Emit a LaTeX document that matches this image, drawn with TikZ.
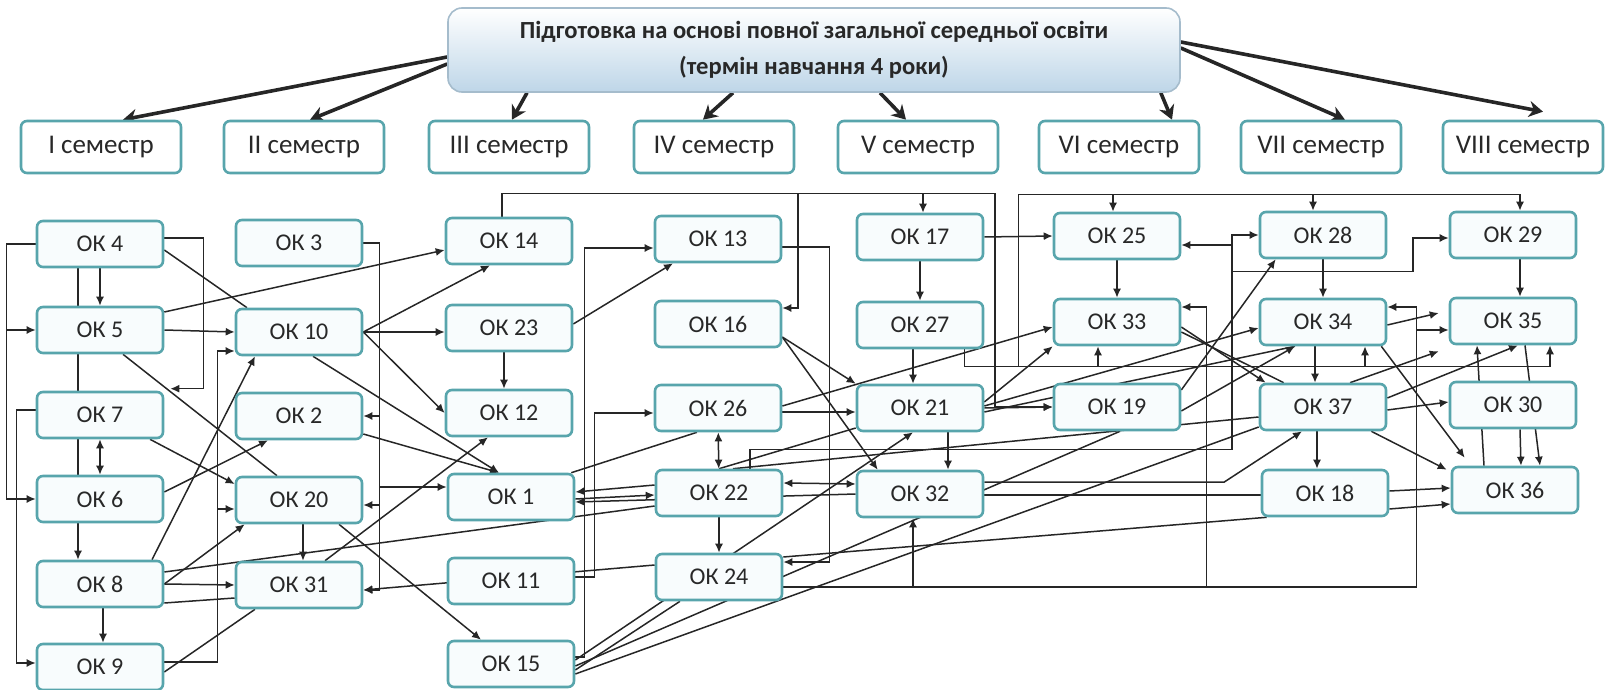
\documentclass[tikz,border=0pt]{standalone}
\usepackage{fontspec}
\setmainfont{Carlito}
\usetikzlibrary{arrows.meta,backgrounds}

\tikzset{
  ok_box/.style={shape=rectangle, rounded corners=3pt, draw=ok_border, line width=1.3pt,
    fill=ok_fill, minimum width=63pt, minimum height=23pt, text=ok_text,
    font=\fontsize{12}{14}\selectfont},
  sem_box/.style={ok_box, fill=white, minimum width=80pt, minimum height=26pt,
    font=\fontsize{13.5}{15}\selectfont},
  top_box/.style={shape=rectangle, rounded corners=7pt, draw=top_border, line width=0.8pt,
    top color=white, bottom color=top_fill, minimum width=366pt, minimum height=42pt,
    align=center, text=ok_text, font=\bfseries\fontsize{12.3}{18}\selectfont},
  link/.style={draw=link_gray, line width=0.75pt, -{Latex[length=4.5pt,width=4pt]}},
  link_both/.style={link, {Latex[length=4.5pt,width=4pt]}-{Latex[length=4.5pt,width=4pt]}},
  link_plain/.style={draw=link_gray, line width=0.75pt},
  sem_arrow/.style={draw=link_gray, line width=1.8pt, -{Stealth[length=7pt,width=8pt]}}
}

\begin{document}
\begin{tikzpicture}[x=0.5pt,y=-0.5pt]
    \definecolor{ok_border}{RGB}{88,165,172}
    \definecolor{ok_fill}{RGB}{248,252,253}
    \definecolor{ok_text}{RGB}{40,40,40}
    \definecolor{top_border}{RGB}{165,188,204}
    \definecolor{top_fill}{RGB}{190,214,232}
    \definecolor{link_gray}{RGB}{38,38,38}
    \useasboundingbox (0,0) rectangle (1608,690);

    % head and semesters
    \node[top_box] (top) at (814,50) {Підготовка на основі повної загальної середньої освіти\\(термін навчання 4 роки)};
    \node[sem_box] (sem1) at (101,147) {I семестр};
    \node[sem_box] (sem2) at (304,147) {II семестр};
    \node[sem_box] (sem3) at (509,147) {III семестр};
    \node[sem_box] (sem4) at (714,147) {IV семестр};
    \node[sem_box] (sem5) at (918,147) {V семестр};
    \node[sem_box] (sem6) at (1119,147) {VI семестр};
    \node[sem_box] (sem7) at (1321,147) {VII семестр};
    \node[sem_box] (sem8) at (1523,147) {VIII семестр};

    % disciplines
    \node[ok_box] (ok4) at (100,244) {ОК 4};
    \node[ok_box] (ok5) at (100,330) {ОК 5};
    \node[ok_box] (ok7) at (100,415) {ОК 7};
    \node[ok_box] (ok6) at (100,499) {ОК 6};
    \node[ok_box] (ok8) at (100,584) {ОК 8};
    \node[ok_box] (ok9) at (100,667) {ОК 9};
    \node[ok_box] (ok3) at (299,243) {ОК 3};
    \node[ok_box] (ok10) at (299,332) {ОК 10};
    \node[ok_box] (ok2) at (299,416) {ОК 2};
    \node[ok_box] (ok20) at (299,500) {ОК 20};
    \node[ok_box] (ok31) at (299,585) {ОК 31};
    \node[ok_box] (ok14) at (509,241) {ОК 14};
    \node[ok_box] (ok23) at (509,328) {ОК 23};
    \node[ok_box] (ok12) at (509,413) {ОК 12};
    \node[ok_box] (ok1) at (511,497) {ОК 1};
    \node[ok_box] (ok11) at (511,581) {ОК 11};
    \node[ok_box] (ok15) at (511,664) {ОК 15};
    \node[ok_box] (ok13) at (718,239) {ОК 13};
    \node[ok_box] (ok16) at (718,324) {ОК 16};
    \node[ok_box] (ok26) at (718,408) {ОК 26};
    \node[ok_box] (ok22) at (719,493) {ОК 22};
    \node[ok_box] (ok24) at (719,577) {ОК 24};
    \node[ok_box] (ok17) at (920,237) {ОК 17};
    \node[ok_box] (ok27) at (920,325) {ОК 27};
    \node[ok_box] (ok21) at (920,408) {ОК 21};
    \node[ok_box] (ok32) at (920,494) {ОК 32};
    \node[ok_box] (ok25) at (1117,236) {ОК 25};
    \node[ok_box] (ok33) at (1117,322) {ОК 33};
    \node[ok_box] (ok19) at (1117,407) {ОК 19};
    \node[ok_box] (ok28) at (1323,235) {ОК 28};
    \node[ok_box] (ok34) at (1323,322) {ОК 34};
    \node[ok_box] (ok37) at (1323,407) {ОК 37};
    \node[ok_box] (ok18) at (1325,493) {ОК 18};
    \node[ok_box] (ok29) at (1513,235) {ОК 29};
    \node[ok_box] (ok35) at (1513,321) {ОК 35};
    \node[ok_box] (ok30) at (1513,405) {ОК 30};
    \node[ok_box] (ok36) at (1515,490) {ОК 36};

    \begin{pgfonlayer}{background}
    % head to semesters
    \draw[sem_arrow] ([yshift=-3.5pt]top.west) -- ([xshift=11pt]sem1.north);
    \draw[sem_arrow] ([yshift=-7pt]top.west) -- ([xshift=3pt]sem2.north);
    \draw[sem_arrow] ([xshift=-143.5pt]top.south) -- ([xshift=1.5pt]sem3.north);
    \draw[sem_arrow] ([xshift=-40.5pt]top.south) -- ([xshift=-5.5pt]sem4.north);
    \draw[sem_arrow] ([xshift=33pt]top.south) -- ([xshift=-6pt]sem5.north);
    \draw[sem_arrow] ([xshift=-10pt]top.south east) -- ([xshift=26.5pt]sem6.north);
    \draw[sem_arrow] ([yshift=1pt]top.east) -- ([xshift=12pt]sem7.north);
    \draw[sem_arrow] ([yshift=4pt]top.east) -- ([xshift=10pt,yshift=4pt]sem8.north);

    % first column
    \draw[link] (ok4) -- (ok5);
    \draw[link] (ok4.west) -- ++(-29,0) |- (ok5.west);
    \draw[link] (ok4.west) -- ++(-29,0) |- (ok6.west);
    \draw[link] ([yshift=2.5pt]ok7.west) -- ++(-19,0) |- ([yshift=2pt]ok9.west);
    \draw[link] ([xshift=-11pt]ok4.south) -- ([xshift=-11pt]ok8.north);
    \draw[link_both] (ok7) -- (ok6);
    \draw[link] ([xshift=1.5pt]ok8.south) -- ([xshift=1.5pt]ok9.north);
    \draw[link] ([yshift=3pt]ok4.east) -- ++(39,0) |- ([xshift=3pt,yshift=1pt]ok7.north east);
    \draw[link_plain] ([yshift=-3pt]ok4.east) -- ([xshift=-26pt]ok10.north);
    \draw[link] (ok5.east) -- (ok10.west);
    \draw[link] ([yshift=9pt]ok5.east) -- ([yshift=-4.5pt]ok14.west);
    \draw[link_plain] ([xshift=11.5pt]ok5.south) -- ([xshift=-11pt]ok20.north);
    \draw[link] ([xshift=25pt]ok7.south) -- ([yshift=8pt]ok20.west);
    \draw[link] ([yshift=3.5pt]ok6.east) -- ([xshift=-15.5pt]ok2.south);
    \draw[link] ([xshift=26pt]ok8.north) -- ([xshift=-22pt]ok10.south);
    \draw[link] (ok8.east) -- ([xshift=5pt]ok20.south west);
    \draw[link] (ok8.east) -- (ok31.west);
    \draw[link_plain] ([yshift=6pt]ok8.east) -- ([yshift=-6.5pt]ok22.west);
    \draw[link_plain] ([yshift=-9.5pt]ok8.east) -- ([yshift=-6.5pt]ok31.west);
    \draw[link] ([yshift=2.5pt]ok9.east) -- ++(53,0) |- ([yshift=-9.5pt]ok10.west);
    \draw[link] ([yshift=2.5pt]ok9.east) -- ++(53,0) |- ([yshift=-4.5pt]ok20.west);
    \draw[link_plain] ([yshift=-2.5pt]ok9.east) -- ([xshift=-22pt]ok31.south);

    % second column
    \draw[link] (ok3.east) -- ++(16,0) |- (ok2.east);
    \draw[link] (ok3.east) -- ++(16,0) |- ([yshift=-2.5pt]ok20.east);
    \draw[link] (ok3.east) -- ++(16,0) |- ([yshift=-2.5pt]ok31.east);
    \draw[link] (ok3.east) -- ++(16,0) |- ([yshift=5pt]ok1.west);
    \draw[link] (ok10.east) -- ([xshift=-9.5pt]ok14.south);
    \draw[link] (ok10.east) -- ([yshift=-2pt]ok23.west);
    \draw[link] (ok10.east) -- (ok12.west);
    \draw[link] ([xshift=7pt]ok10.south) -- ([xshift=-6pt]ok1.north);
    \draw[link] ([yshift=-9pt]ok2.east) -- ([xshift=-6pt]ok1.north);
    \draw[link] ([xshift=2pt]ok20.south) -- ([xshift=2pt]ok31.north);
    \draw[link] ([xshift=20pt]ok20.south) -- ([xshift=-15pt]ok15.north);
    \draw[link] ([xshift=13pt]ok31.north) -- ([xshift=-10.5pt]ok12.south);
    \draw[link] ([yshift=6pt]ok24.west) -- ([yshift=-2.5pt]ok31.east);

    % third and fourth column
    \draw[link] ([xshift=-3.5pt]ok14.north) -- ++(0,-23) -| ([xshift=1.5pt]ok17.north);
    \draw[link] ([xshift=-3.5pt]ok14.north) -- ++(0,-23) -- ++(296,0) |- ([yshift=8pt]ok16.east);
    \draw[link] ([xshift=-3.5pt]ok14.north) -- ++(0,-23) -- ++(493,0) |- (ok19.west);
    \draw[link] ([xshift=-2.5pt]ok23.south) -- ([xshift=-2.5pt]ok12.north);
    \draw[link] ([yshift=2pt]ok23.east) -- ([xshift=-22.5pt]ok13.south);
    \draw[link] ([yshift=3.5pt]ok15.east) -- ++(9,0) |- ([yshift=-4.5pt]ok13.west);
    \draw[link] ([yshift=2pt]ok11.east) -- ++(19,0) |- ([yshift=-2.5pt]ok26.west);
    \draw[link_plain] ([xshift=-2pt]ok1.north east) -- ([xshift=-10.5pt]ok26.south);
    \draw[link] ([yshift=4pt]ok22.west) -- ([yshift=2.5pt]ok1.east);
    \draw[link] ([yshift=-1pt]ok1.east) -- ([yshift=-1pt]ok22.west);
    \draw[link] (ok32.west) -- ([yshift=-2.5pt]ok1.east);
    \draw[link_both] (ok26) -- (ok22);
    \draw[link] (ok22) -- (ok24);
    \draw[link] ([yshift=-4pt]ok13.east) -- ++(47,0) |- ([yshift=7.5pt]ok24.east);
    \draw[link_both] ([yshift=5pt]ok22.east) -- ([yshift=5pt]ok32.west);

    % fifth and sixth column
    \draw[link] (ok17) -- (ok27);
    \draw[link] ([xshift=-3.5pt]ok27.south) -- ([xshift=-3.5pt]ok21.north);
    \draw[link] (ok17.east) -- (ok25.west);
    \draw[link] (ok25) -- (ok33);
    \draw[link] ([yshift=-6.5pt]ok16.east) -- (ok21.north west);
    \draw[link] ([yshift=-6.5pt]ok16.east) -- ([xshift=11pt]ok32.north west);
    \draw[link] ([yshift=-2pt]ok26.east) -- ([yshift=-2pt]ok21.west);
    \draw[link] ([yshift=1pt]ok26.east) -- ([yshift=-2.5pt]ok33.west);
    \draw[link] (ok21.east) -- (ok19.west);
    \draw[link] ([yshift=3pt]ok21.east) -- (ok33.south west);
    \draw[link] ([yshift=1pt]ok21.east) -- ([yshift=-3pt]ok34.west);
    \draw[link_plain] ([yshift=-2pt]ok21.east) -- ([xshift=-14pt]ok34.south);
    \draw[link] ([xshift=14pt]ok21.south) -- ([xshift=14pt]ok32.north);
    \draw[link_plain] (ok22.north) -- ([yshift=-10pt]ok21.west);
    \draw[link_plain] ([xshift=7pt]ok22.north) -- ([yshift=-5pt]ok37.west);

    % OK 27 lines
    \draw[link] ([xshift=-10pt]ok27.south east) -- ++(0,17) -| ([xshift=-9.5pt]ok33.south);
    \draw[link] ([xshift=-10pt]ok27.south east) -- ++(0,17) -| ([xshift=21pt]ok34.south);
    \draw[link] ([xshift=-10pt]ok27.south east) -- ++(0,17) -| ([xshift=18.5pt]ok35.south);
    \draw[link] ([xshift=-10pt]ok27.south east) -- ++(0,17) -- ++(54,0) -- ++(0,-172) -| ([xshift=-2pt]ok25.north);
    \draw[link] ([xshift=-10pt]ok27.south east) -- ++(0,17) -- ++(54,0) -- ++(0,-172) -| ([xshift=-5pt]ok28.north);
    \draw[link] ([xshift=-10pt]ok27.south east) -- ++(0,17) -- ++(54,0) -- ++(0,-172) -| ([xshift=3.5pt]ok29.north);

    % OK 22 lines
    \draw[link] ([xshift=15.5pt]ok22.north) -- ++(0,-19) -- ++(482,0) |- ([yshift=-4.5pt]ok25.east);
    \draw[link] ([xshift=15.5pt]ok22.north) -- ++(0,-19) -- ++(482,0) |- (ok28.west);
    \draw[link] ([xshift=15.5pt]ok22.north) -- ++(0,-19) -- ++(482,0) -- ++(0,-178) -- ++(181,0) |- ([yshift=-1.5pt]ok29.west);

    % OK 24 lines
    \draw[link] ([yshift=-5pt]ok24.east) -| ([xshift=-3.5pt]ok32.south);
    \draw[link] ([yshift=-5pt]ok24.east) -- ++(423,0) |- ([yshift=7.5pt]ok33.east);
    \draw[link] ([yshift=-5pt]ok24.east) -- ++(633,0) |- ([yshift=7.5pt]ok34.east);
    \draw[link] ([yshift=-5pt]ok24.east) -- ++(633,0) |- ([yshift=-4.5pt]ok35.west);
    \draw[link_plain] ([yshift=10pt]ok24.east) -- ([xshift=3pt]ok18.south west);

    % OK 15 lines
    \draw[link] ([yshift=2pt]ok15.east) -- ([xshift=-3.5pt]ok21.south);
    \draw[link_plain] ([yshift=-1pt]ok15.east) -- ([xshift=1.5pt]ok19.south);
    \draw[link_plain] ([yshift=-5pt]ok15.east) -- ([yshift=-10pt]ok37.west);
    \draw[link_plain] ([yshift=-3pt]ok15.east) -- ([xshift=-19.5pt]ok24.south);

    % last columns
    \draw[link] ([yshift=6pt]ok32.east) -- ++(240,0) -- ([xshift=-10.5pt]ok37.south);
    \draw[link_plain] ([yshift=-0.5pt]ok32.east) -- ([yshift=-1pt]ok18.west);
    \draw[link] ([yshift=-2.5pt]ok33.east) -- ([xshift=3.5pt]ok37.north west);
    \draw[link_plain] ([yshift=-5pt]ok33.east) -- ([xshift=12.5pt]ok37.north west);
    \draw[link] ([yshift=8.5pt]ok19.east) -- ([xshift=8.5pt]ok28.south west);
    \draw[link] ([yshift=-2pt]ok19.east) -- ([xshift=-14pt]ok34.south);
    \draw[link] (ok28) -- (ok34);
    \draw[link] ([xshift=3.5pt]ok29.south) -- ([xshift=3.5pt]ok35.north);
    \draw[link] ([xshift=-4pt]ok34.south) -- ([xshift=-4pt]ok37.north);
    \draw[link] ([xshift=-3pt]ok37.south) -- ([xshift=-4pt]ok18.north);
    \draw[link] ([yshift=-1.5pt]ok34.east) -- ([xshift=-5pt,yshift=4pt]ok35.west);
    \draw[link] ([xshift=-3pt]ok34.south east) -- ([xshift=7pt,yshift=4pt]ok36.north west);
    \draw[link] ([xshift=13.5pt]ok37.north) -- ([xshift=-5pt,yshift=-3pt]ok35.south west);
    \draw[link] ([yshift=4.5pt]ok37.east) -- ([xshift=2.5pt]ok35.south);
    \draw[link] ([yshift=-1.5pt]ok37.east) -- ([yshift=1.5pt]ok30.west);
    \draw[link] ([xshift=-8pt]ok37.south east) -- ([xshift=-2pt,yshift=-2pt]ok36.north west);
    \draw[link] ([xshift=-15.5pt]ok36.north) -- ([xshift=-18pt]ok35.south);
    \draw[link] ([xshift=6pt]ok35.south) -- ([xshift=12.5pt]ok36.north);
    \draw[link] ([xshift=3.5pt]ok30.south) -- ([xshift=3pt]ok36.north);
    \draw[link] ([yshift=1pt]ok18.east) -- ([yshift=1pt]ok36.west);
    \draw[link] ([yshift=-8pt]ok18.east) -- ([yshift=-7pt]ok36.west);
    \end{pgfonlayer}
\end{tikzpicture}
\end{document}
